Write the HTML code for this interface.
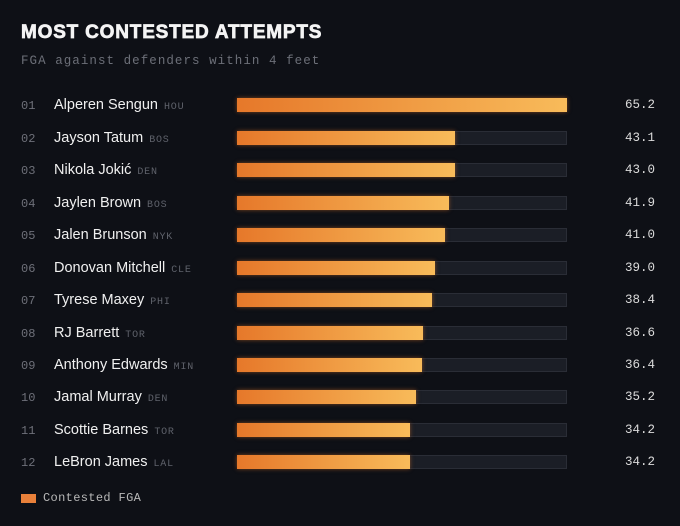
<!DOCTYPE html>
<html><head><meta charset="utf-8"><style>
*{margin:0;padding:0;box-sizing:border-box}
body{width:680px;height:526px;background:#0e1016;overflow:hidden;position:relative;font-family:"Liberation Sans",sans-serif}
.t{position:absolute;left:21px;top:22px;color:#f4f4f4;font-weight:900;font-size:19px;letter-spacing:0.8px;-webkit-text-stroke:0.7px #f4f4f4}
.s{position:absolute;left:21px;top:54px;color:#6c6f78;font-family:"Liberation Mono",monospace;font-size:12.5px;letter-spacing:1.05px}
.r{position:absolute;left:0;width:680px;height:20px}
.n{position:absolute;left:21px;top:4px;font-family:"Liberation Mono",monospace;font-size:12px;color:#6e7079}
.nm{position:absolute;left:54px;top:2px;font-size:14.5px;color:#f0f0f0;white-space:nowrap}
.nm span{font-family:"Liberation Mono",monospace;font-size:10px;color:#5f626b;margin-left:6px;letter-spacing:0.8px}
.tr{position:absolute;left:237px;top:3px;width:330px;height:14px;background:#1b1e26;border:1px solid #2a2d36}
.b{position:absolute;left:237px;top:3px;height:14px;background:linear-gradient(90deg,#e6782a,#f8bb5a);box-shadow:0 0 4px rgba(230,120,40,0.5)}
.v{position:absolute;right:25px;top:3px;font-family:"Liberation Mono",monospace;font-size:12.5px;color:#dcdcdc}
.lg{position:absolute;left:21px;top:494px;width:15px;height:9px;background:#e8803a}
.lt{position:absolute;left:43px;top:491px;font-family:"Liberation Mono",monospace;font-size:12px;color:#b8b8b8;letter-spacing:0.35px}
</style></head><body>
<div class="t">MOST CONTESTED ATTEMPTS</div>
<div class="s">FGA against defenders within 4 feet</div>
<div class="r" style="top:95px"><div class="n">01</div><div class="nm">Alperen Sengun<span>HOU</span></div><div class="tr"></div><div class="b" style="width:330px"></div><div class="v">65.2</div></div>
<div class="r" style="top:128px"><div class="n">02</div><div class="nm">Jayson Tatum<span>BOS</span></div><div class="tr"></div><div class="b" style="width:218px"></div><div class="v">43.1</div></div>
<div class="r" style="top:160px"><div class="n">03</div><div class="nm">Nikola Jokić<span>DEN</span></div><div class="tr"></div><div class="b" style="width:218px"></div><div class="v">43.0</div></div>
<div class="r" style="top:193px"><div class="n">04</div><div class="nm">Jaylen Brown<span>BOS</span></div><div class="tr"></div><div class="b" style="width:212px"></div><div class="v">41.9</div></div>
<div class="r" style="top:225px"><div class="n">05</div><div class="nm">Jalen Brunson<span>NYK</span></div><div class="tr"></div><div class="b" style="width:208px"></div><div class="v">41.0</div></div>
<div class="r" style="top:258px"><div class="n">06</div><div class="nm">Donovan Mitchell<span>CLE</span></div><div class="tr"></div><div class="b" style="width:198px"></div><div class="v">39.0</div></div>
<div class="r" style="top:290px"><div class="n">07</div><div class="nm">Tyrese Maxey<span>PHI</span></div><div class="tr"></div><div class="b" style="width:195px"></div><div class="v">38.4</div></div>
<div class="r" style="top:323px"><div class="n">08</div><div class="nm">RJ Barrett<span>TOR</span></div><div class="tr"></div><div class="b" style="width:186px"></div><div class="v">36.6</div></div>
<div class="r" style="top:355px"><div class="n">09</div><div class="nm">Anthony Edwards<span>MIN</span></div><div class="tr"></div><div class="b" style="width:185px"></div><div class="v">36.4</div></div>
<div class="r" style="top:387px"><div class="n">10</div><div class="nm">Jamal Murray<span>DEN</span></div><div class="tr"></div><div class="b" style="width:179px"></div><div class="v">35.2</div></div>
<div class="r" style="top:420px"><div class="n">11</div><div class="nm">Scottie Barnes<span>TOR</span></div><div class="tr"></div><div class="b" style="width:173px"></div><div class="v">34.2</div></div>
<div class="r" style="top:452px"><div class="n">12</div><div class="nm">LeBron James<span>LAL</span></div><div class="tr"></div><div class="b" style="width:173px"></div><div class="v">34.2</div></div>
<div class="lg"></div><div class="lt">Contested FGA</div>
</body></html>
